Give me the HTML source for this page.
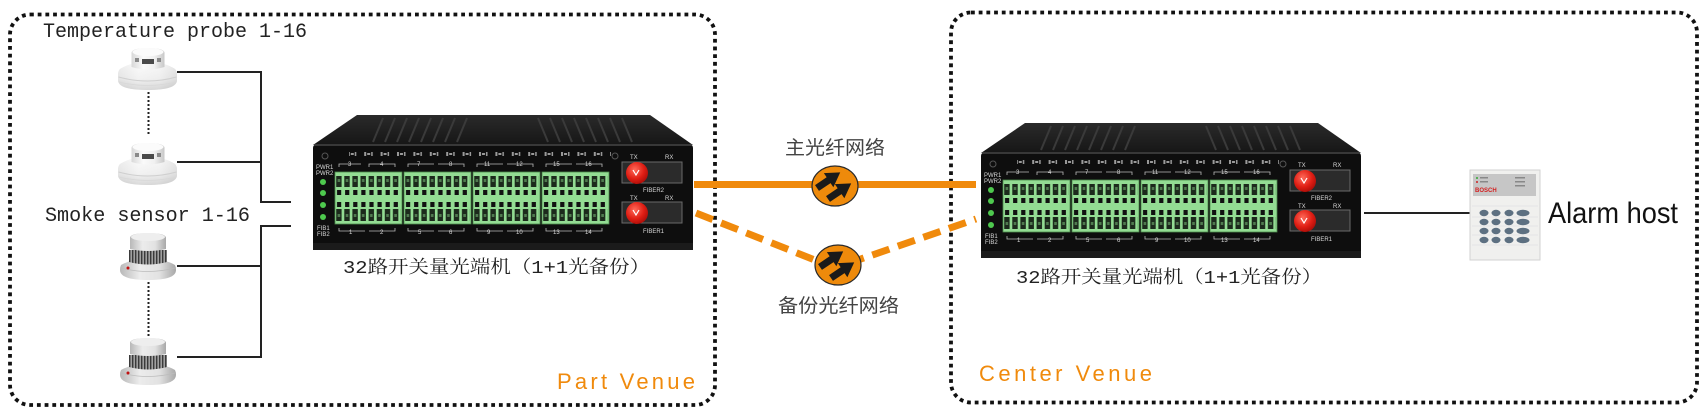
<!DOCTYPE html>
<html><head><meta charset="utf-8">
<style>
html,body{margin:0;padding:0;background:#fff;width:1706px;height:411px;overflow:hidden}
svg{display:block}
</style></head><body>
<svg width="1706" height="411" viewBox="0 0 1706 411" xmlns="http://www.w3.org/2000/svg" xmlns:xlink="http://www.w3.org/1999/xlink">
<defs>
  <linearGradient id="wg" x1="0" y1="0" x2="0" y2="1">
    <stop offset="0" stop-color="#fdfdfd"/><stop offset="0.6" stop-color="#ececec"/><stop offset="1" stop-color="#c4c4c4"/>
  </linearGradient>
  <linearGradient id="wgh" x1="0" y1="0" x2="1" y2="0">
    <stop offset="0" stop-color="#d8d8d8"/><stop offset="0.35" stop-color="#fafafa"/><stop offset="0.7" stop-color="#f0f0f0"/><stop offset="1" stop-color="#c8c8c8"/>
  </linearGradient>
  <linearGradient id="gg" x1="0" y1="0" x2="0" y2="1">
    <stop offset="0" stop-color="#eeeeee"/><stop offset="1" stop-color="#a8a8a8"/>
  </linearGradient>
  <linearGradient id="ggh" x1="0" y1="0" x2="1" y2="0">
    <stop offset="0" stop-color="#b8b8b8"/><stop offset="0.35" stop-color="#ececec"/><stop offset="0.7" stop-color="#e2e2e2"/><stop offset="1" stop-color="#a8a8a8"/>
  </linearGradient>
  <radialGradient id="red" cx="0.4" cy="0.35" r="0.7">
    <stop offset="0" stop-color="#ff6a5a"/><stop offset="0.6" stop-color="#e01e14"/><stop offset="1" stop-color="#a80d08"/>
  </radialGradient>
  <linearGradient id="topg" x1="0" y1="0" x2="0" y2="1">
    <stop offset="0" stop-color="#2a2a2a"/><stop offset="1" stop-color="#161616"/>
  </linearGradient>
  <pattern id="slotP" x="0" y="0" width="8.1" height="52" patternUnits="userSpaceOnUse">
    <rect x="1.2" y="4" width="5.4" height="11" fill="#1c2a1c"/>
    <rect x="2.6" y="7" width="2.6" height="3" fill="#4f7a4f"/>
    <rect x="2" y="18" width="4.2" height="5" fill="#111"/>
    <rect x="2" y="30" width="4.2" height="5" fill="#111"/>
    <rect x="1.2" y="37" width="5.4" height="12" fill="#1c2a1c"/>
    <rect x="2.6" y="42" width="2.6" height="3" fill="#4f7a4f"/>
  </pattern>
  <pattern id="ribP" x="0" y="0" width="3" height="20" patternUnits="userSpaceOnUse">
    <rect x="0" y="0" width="3" height="20" fill="#a0a0a0"/>
    <rect x="0" y="0" width="1.4" height="20" fill="#3a3a3a"/>
  </pattern>
  <pattern id="icoP" x="0" y="0" width="16.4" height="6" patternUnits="userSpaceOnUse">
    <rect x="2" y="1" width="2" height="4" fill="#9a9a9a"/>
    <rect x="5" y="2" width="3" height="2" fill="#9a9a9a"/>
    <rect x="9" y="1" width="1.5" height="4" fill="#9a9a9a"/>
  </pattern>
  <g id="tb">
    <rect x="0" y="0" width="67" height="52" fill="#93dc93" stroke="#4d8a4d" stroke-width="0.8"/>
    <rect x="1" y="0" width="65" height="52" fill="url(#slotP)"/>
  </g>
  <g id="dev">
    <polygon points="44,0 337,0 380,30 0,30" fill="url(#topg)"/>
    <g stroke="#3a3a3a" stroke-width="2">
      <line x1="70" y1="3" x2="60" y2="27"/><line x1="82" y1="3" x2="72" y2="27"/>
      <line x1="94" y1="3" x2="84" y2="27"/><line x1="106" y1="3" x2="96" y2="27"/>
      <line x1="118" y1="3" x2="108" y2="27"/><line x1="130" y1="3" x2="120" y2="27"/>
      <line x1="142" y1="3" x2="132" y2="27"/><line x1="154" y1="3" x2="144" y2="27"/>
      <line x1="225" y1="3" x2="235" y2="27"/><line x1="237" y1="3" x2="247" y2="27"/>
      <line x1="249" y1="3" x2="259" y2="27"/><line x1="261" y1="3" x2="271" y2="27"/>
      <line x1="273" y1="3" x2="283" y2="27"/><line x1="285" y1="3" x2="295" y2="27"/>
      <line x1="297" y1="3" x2="307" y2="27"/><line x1="309" y1="3" x2="319" y2="27"/>
    </g>
    <rect x="0" y="29" width="380" height="106" rx="4" fill="#0e0e0e"/>
    <line x1="1" y1="30" x2="379" y2="30" stroke="#474747" stroke-width="1.5"/>
    <rect x="0" y="128" width="380" height="7" fill="#1b1b1b"/>
    <rect x="36" y="37" width="262" height="6" fill="url(#icoP)"/>
    <use xlink:href="#tb" x="22" y="57"/>
    <use xlink:href="#tb" x="91" y="57"/>
    <use xlink:href="#tb" x="160" y="57"/>
    <use xlink:href="#tb" x="229" y="57"/>
    <g stroke="#bbb" stroke-width="0.8" fill="none">
      <path d="M26,52 v-3 h22 M56,52 v-3 h26 v3"/>
      <path d="M95,52 v-3 h26 M125,49 h26 v3"/>
      <path d="M164,52 v-3 h26 M194,49 h26 v3"/>
      <path d="M233,52 v-3 h26 M263,49 h26 v3"/>
      <path d="M26,113 v3 h26 M56,116 h26 v-3"/>
      <path d="M95,113 v3 h26 M125,116 h26 v-3"/>
      <path d="M164,113 v3 h26 M194,116 h26 v-3"/>
      <path d="M233,113 v3 h26 M263,116 h26 v-3"/>
    </g>
    <circle cx="10" cy="67" r="3" fill="#4ec94e"/>
    <circle cx="10" cy="78" r="3" fill="#4ec94e"/>
    <circle cx="10" cy="90" r="3" fill="#4ec94e"/>
    <circle cx="10" cy="102" r="3" fill="#4ec94e"/>
    <circle cx="12" cy="41" r="3" fill="none" stroke="#555" stroke-width="1"/>
    <circle cx="302" cy="41" r="3" fill="none" stroke="#555" stroke-width="1"/>
    <rect x="309" y="47" width="60" height="21" fill="#2b2b2b" stroke="#6a6a6a" stroke-width="1"/>
    <rect x="309" y="87" width="60" height="21" fill="#2b2b2b" stroke="#6a6a6a" stroke-width="1"/>
    <circle cx="324" cy="58" r="11" fill="url(#red)"/>
    <circle cx="324" cy="98" r="11" fill="url(#red)"/>
    <path d="M320,55 l3,5 l3,-5" stroke="#fff" stroke-width="1.2" fill="none"/>
    <path d="M320,95 l3,5 l3,-5" stroke="#fff" stroke-width="1.2" fill="none"/>
  </g>
  <g id="temp">
    <path d="M2,22 Q0,24 0,28 L0,33 Q0,43 29.5,43 Q59,43 59,33 L59,28 Q59,24 57,22 Q46,15 29.5,15 Q13,15 2,22 Z" fill="url(#wgh)"/>
    <path d="M2,22 Q0,24 0,28 L0,33 Q0,43 29.5,43 Q59,43 59,33 L59,28 Q59,24 57,22 Q46,15 29.5,15 Q13,15 2,22 Z" fill="url(#wg)" opacity="0.6"/>
    <path d="M0.5,30 Q29.5,38 58.5,30" stroke="#cfcfcf" stroke-width="1" fill="none"/>
    <path d="M1,35 Q29.5,42 58,35" stroke="#d8d8d8" stroke-width="0.8" fill="none"/>
    <path d="M13.5,20 L13.5,6 Q13.5,1 30,1 Q46.5,1 46.5,6 L46.5,20 Q30,25 13.5,20 Z" fill="url(#wgh)"/>
    <ellipse cx="30" cy="5" rx="15.5" ry="4" fill="#fbfbfb"/>
    <rect x="24" y="12" width="12" height="5" fill="#4a4a4a"/>
    <rect x="17" y="11" width="4" height="4" fill="#8a8a8a"/>
    <rect x="39" y="11" width="4" height="4" fill="#8a8a8a"/>
  </g>
  <g id="smoke">
    <path d="M1,33 Q0,35 0,38 Q0,48 28,48 Q56,48 56,38 Q56,35 55,33 Q45,27 28,27 Q11,27 1,33 Z" fill="url(#ggh)"/>
    <path d="M1,36 Q28,43 55,36" stroke="#bcbcbc" stroke-width="0.8" fill="none"/>
    <path d="M9,18 L9,30 Q28,35 47,30 L47,18 Z" fill="url(#ribP)"/>
    <path d="M10,17 L10,6 Q10,1 28,1 Q46,1 46,6 L46,17 Q28,21 10,17 Z" fill="url(#ggh)"/>
    <ellipse cx="28" cy="5" rx="17" ry="4" fill="#eeeeee"/>
    <circle cx="8" cy="36" r="1.5" fill="#c01010"/>
  </g>
  <g id="arr">
    <path d="M0,-3.5 L14,-3.5 L14,-8.5 L28,0 L14,8.5 L14,3.5 L0,3.5 Z" fill="#1a1a1a"/>
  </g>
</defs>

<!-- venue boxes -->
<rect x="10" y="14.5" width="705" height="390.5" rx="20" fill="none" stroke="#111" stroke-width="3.8" stroke-dasharray="3.8 3.9"/>
<rect x="951" y="12.5" width="746" height="390" rx="20" fill="none" stroke="#111" stroke-width="3.8" stroke-dasharray="3.8 3.9"/>

<!-- left labels -->
<text x="43" y="37" font-family="Liberation Mono, monospace" font-size="20" fill="#222" textLength="264" lengthAdjust="spacingAndGlyphs">Temperature probe 1-16</text>
<text x="45" y="221" font-family="Liberation Mono, monospace" font-size="20" fill="#222" textLength="205" lengthAdjust="spacingAndGlyphs">Smoke sensor 1-16</text>

<!-- detectors -->
<use xlink:href="#temp" x="118" y="47"/>
<use xlink:href="#temp" x="118" y="142"/>
<use xlink:href="#smoke" x="120" y="232"/>
<use xlink:href="#smoke" x="120" y="337"/>

<!-- dotted verticals -->
<line x1="148.5" y1="92" x2="148.5" y2="136" stroke="#222" stroke-width="2" stroke-dasharray="2 2"/>
<line x1="148.5" y1="282" x2="148.5" y2="336" stroke="#222" stroke-width="2" stroke-dasharray="2 2"/>

<!-- connectors -->
<g stroke="#222" stroke-width="2" fill="none">
  <polyline points="177,72 261,72 261,202 291,202"/>
  <line x1="177" y1="162" x2="261" y2="162"/>
  <polyline points="291,226 261,226 261,357 177,357"/>
  <line x1="177" y1="266" x2="261" y2="266"/>
  <line x1="1364" y1="213" x2="1482" y2="213"/>
</g>

<!-- fiber lines -->
<line x1="694" y1="184.5" x2="976" y2="184.5" stroke="#f08a0c" stroke-width="7"/>
<polyline points="696,213 835,268 976,219" fill="none" stroke="#f08a0c" stroke-width="7" stroke-dasharray="18 9"/>

<!-- fiber circles -->
<g transform="translate(835,186)">
  <ellipse cx="0" cy="0" rx="23" ry="20" fill="#ee8a0b" stroke="#2b2b2b" stroke-width="1.2"/>
  <use xlink:href="#arr" transform="translate(-18,2) rotate(-34)"/>
  <use xlink:href="#arr" transform="translate(-7,13) rotate(-34)"/>
</g>
<g transform="translate(838,265)">
  <ellipse cx="0" cy="0" rx="23" ry="20" fill="#ee8a0b" stroke="#2b2b2b" stroke-width="1.2"/>
  <use xlink:href="#arr" transform="translate(-18,2) rotate(-34)"/>
  <use xlink:href="#arr" transform="translate(-7,13) rotate(-34)"/>
</g>
<text x="785" y="154" font-family="Liberation Sans, 'Noto Sans CJK SC', sans-serif" font-size="19" fill="#444" textLength="100" lengthAdjust="spacingAndGlyphs">主光纤网络</text>
<text x="778" y="312" font-family="Liberation Sans, 'Noto Sans CJK SC', sans-serif" font-size="19" fill="#444" textLength="121" lengthAdjust="spacingAndGlyphs">备份光纤网络</text>

<!-- left device -->
<g transform="translate(313,115)">
  <use xlink:href="#dev"/>
  <g font-family="Liberation Sans, sans-serif" fill="#d8d8d8" font-size="6">
    <text x="3" y="54">PWR1</text><text x="3" y="60">PWR2</text>
    <text x="4" y="115">FIB1</text><text x="4" y="121">FIB2</text>
    <text x="317" y="44">TX</text><text x="352" y="44">RX</text>
    <text x="330" y="77">FIBER2</text>
    <text x="317" y="85">TX</text><text x="352" y="85">RX</text>
    <text x="330" y="118">FIBER1</text>
    <text x="35" y="51">3</text><text x="67" y="51">4</text><text x="104" y="51">7</text><text x="136" y="51">8</text>
    <text x="171" y="51">11</text><text x="203" y="51">12</text><text x="240" y="51">15</text><text x="272" y="51">16</text>
    <text x="36" y="119">1</text><text x="67" y="119">2</text><text x="105" y="119">5</text><text x="136" y="119">6</text>
    <text x="174" y="119">9</text><text x="203" y="119">10</text><text x="240" y="119">13</text><text x="272" y="119">14</text>
  </g>
</g>
<text x="343" y="273" font-family="Liberation Mono, 'Noto Serif CJK SC', serif" font-size="18" fill="#222" textLength="307" lengthAdjust="spacingAndGlyphs">32路开关量光端机（1+1光备份）</text>

<!-- right device -->
<g transform="translate(981,123)">
  <use xlink:href="#dev"/>
  <g font-family="Liberation Sans, sans-serif" fill="#d8d8d8" font-size="6">
    <text x="3" y="54">PWR1</text><text x="3" y="60">PWR2</text>
    <text x="4" y="115">FIB1</text><text x="4" y="121">FIB2</text>
    <text x="317" y="44">TX</text><text x="352" y="44">RX</text>
    <text x="330" y="77">FIBER2</text>
    <text x="317" y="85">TX</text><text x="352" y="85">RX</text>
    <text x="330" y="118">FIBER1</text>
    <text x="35" y="51">3</text><text x="67" y="51">4</text><text x="104" y="51">7</text><text x="136" y="51">8</text>
    <text x="171" y="51">11</text><text x="203" y="51">12</text><text x="240" y="51">15</text><text x="272" y="51">16</text>
    <text x="36" y="119">1</text><text x="67" y="119">2</text><text x="105" y="119">5</text><text x="136" y="119">6</text>
    <text x="174" y="119">9</text><text x="203" y="119">10</text><text x="240" y="119">13</text><text x="272" y="119">14</text>
  </g>
</g>
<text x="1016" y="283" font-family="Liberation Mono, 'Noto Serif CJK SC', serif" font-size="18" fill="#222" textLength="306" lengthAdjust="spacingAndGlyphs">32路开关量光端机（1+1光备份）</text>

<!-- alarm panel -->
<g transform="translate(1470,170)">
  <rect x="0" y="0" width="70" height="90" fill="#f0f0ee" stroke="#d2d2d2" stroke-width="1"/>
  <rect x="3" y="4" width="63" height="22" fill="#c6c6c6"/>
  <circle cx="7" cy="8" r="1" fill="#3a3"/><circle cx="7" cy="12" r="1" fill="#c22"/>
  <rect x="10" y="7" width="8" height="1.5" fill="#888"/><rect x="10" y="11" width="8" height="1.5" fill="#888"/>
  <rect x="45" y="7" width="10" height="1.5" fill="#888"/><rect x="45" y="11" width="10" height="1.5" fill="#888"/><rect x="45" y="15" width="10" height="1.5" fill="#888"/>
  <text x="5" y="22" font-family="Liberation Sans, sans-serif" font-size="6" font-weight="bold" fill="#d42020">BOSCH</text>
  <g stroke="#e2e2e2" stroke-width="0.8">
    <line x1="2" y1="36" x2="68" y2="36"/><line x1="2" y1="47" x2="68" y2="47"/>
    <line x1="2" y1="56" x2="68" y2="56"/><line x1="2" y1="65" x2="68" y2="65"/><line x1="2" y1="75" x2="68" y2="75"/>
  </g>
  <g fill="#5d7081">
    <ellipse cx="14" cy="43" rx="4.5" ry="3.2"/><ellipse cx="26" cy="43" rx="4.5" ry="3.2"/><ellipse cx="39" cy="43" rx="4.5" ry="3.2"/><ellipse cx="53" cy="43" rx="6.5" ry="3.2"/>
    <ellipse cx="14" cy="52" rx="4.5" ry="3.2"/><ellipse cx="26" cy="52" rx="4.5" ry="3.2"/><ellipse cx="39" cy="52" rx="4.5" ry="3.2"/><ellipse cx="53" cy="52" rx="6.5" ry="3.2"/>
    <ellipse cx="14" cy="61" rx="4.5" ry="3.2"/><ellipse cx="26" cy="61" rx="4.5" ry="3.2"/><ellipse cx="39" cy="61" rx="4.5" ry="3.2"/><ellipse cx="53" cy="61" rx="6.5" ry="3.2"/>
    <ellipse cx="14" cy="70" rx="4.5" ry="3.2"/><ellipse cx="26" cy="70" rx="4.5" ry="3.2"/><ellipse cx="39" cy="70" rx="4.5" ry="3.2"/><ellipse cx="53" cy="70" rx="6.5" ry="3.2"/>
  </g>
</g>
<text x="1548" y="223" font-family="Liberation Sans, Arial, sans-serif" font-size="30" fill="#111" textLength="130" lengthAdjust="spacingAndGlyphs">Alarm host</text>

<!-- venue labels -->
<text x="557" y="389" font-family="Liberation Sans, Arial, sans-serif" font-size="22" fill="#f08a0c" textLength="138" lengthAdjust="spacing">Part Venue</text>
<text x="979" y="381" font-family="Liberation Sans, Arial, sans-serif" font-size="22" fill="#f08a0c" textLength="173" lengthAdjust="spacing">Center Venue</text>
</svg>
</body></html>
